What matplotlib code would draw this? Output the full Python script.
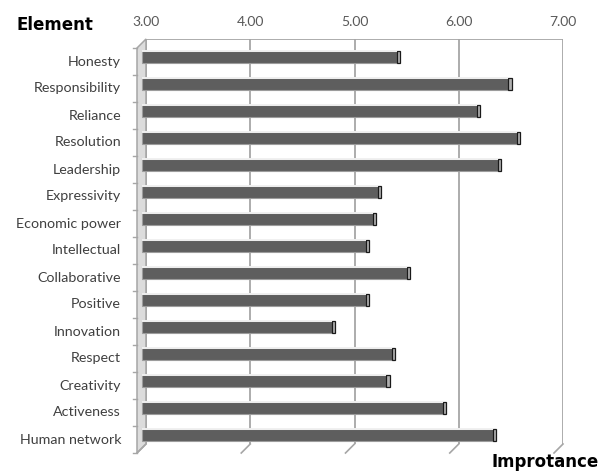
import numpy as np
import matplotlib.pyplot as plt
from matplotlib.patches import Polygon
from matplotlib.transforms import ScaledTranslation

plt.rcParams['font.family'] = ['Lato', 'DejaVu Sans']

elements = ['Honesty', 'Responsibility', 'Reliance', 'Resolution', 'Leadership',
            'Expressivity', 'Economic power', 'Intellectual', 'Collaborative',
            'Positive', 'Innovation', 'Respect', 'Creativity', 'Activeness',
            'Human network']
importance = [5.45, 6.52, 6.22, 6.60, 6.42, 5.27, 5.22, 5.15, 5.55, 5.15,
              4.83, 5.40, 5.35, 5.89, 6.37]
ticks = [3, 4, 5, 6, 7]
tick_labels = ['3.00', '4.00', '5.00', '6.00', '7.00']

DPI = 100
W, H = 613, 472
fig = plt.figure(figsize=(W / DPI, H / DPI), dpi=DPI)
# axes = back wall of the 3-D plot area
ax = fig.add_axes([146 / W, 28 / H, (563 - 146) / W, (444 - 39) / H])
ax.set_xlim(3, 7)
ax.set_ylim(len(elements) - 0.5, -0.5)
for s in ax.spines.values():
    s.set_visible(False)
ax.set_yticks([])
ax.set_xticks(ticks)
ax.set_xticklabels(tick_labels, fontsize=10, color='#595959')
ax.xaxis.tick_top()
ax.tick_params(axis='x', length=0, pad=8)

grid_c = '#a6a6a6'
depth = 9  # px, depth of the 3-D box

def px(x, y):
    return ax.transData.transform((x, y))

y_top, y_bot = -0.5, len(elements) - 0.5

# back wall gridlines, top edge and floor diagonals
for t in ticks:
    ax.plot([t, t], [y_top, y_bot], color=grid_c, lw=1.3, zorder=1)
    x0, y0 = px(t, y_bot)
    ax.add_line(plt.Line2D([x0, x0 - depth], [y0, y0 - depth], color=grid_c,
                           lw=1.2, transform=None, clip_on=False))
ax.plot([3, 7], [y_top, y_top], color=grid_c, lw=1.3, zorder=1)

# left side wall (drawn under the bars)
bx, by_top = px(3, y_top)
_, by_bot = px(3, y_bot)
wall = Polygon([(bx, by_top), (bx, by_bot), (bx - depth, by_bot - depth),
                (bx - depth, by_top - depth)], closed=True, transform=None,
               facecolor='#dcdcdc', edgecolor=grid_c, lw=1.1, zorder=1,
               clip_on=False)
ax.add_patch(wall)
for k in range(len(elements) + 1):
    _, yy = px(3, k - 0.5)
    ax.add_line(plt.Line2D([bx - depth - 4, bx - depth],
                           [yy - depth, yy - depth], color=grid_c,
                           lw=1.0, transform=None, clip_on=False))

# bars sit half way into the depth
shift = ScaledTranslation(-depth / 2 / DPI, -depth / 2 / DPI, fig.dpi_scale_trans)
bar_tr = ax.transData + shift
yy = np.arange(len(elements))
bar_h = 0.44
ax.barh(yy, np.array(importance) - 3, left=3, height=bar_h, color='#5e5e5e',
        edgecolor='#9c9c9c', lw=0.8, transform=bar_tr, zorder=3, clip_on=False)
ax.hlines(yy - bar_h / 2, 3, importance, color='#f0f0f0', lw=1.4,
          transform=bar_tr, zorder=4, clip_on=False)
cap = 0.03
ax.barh(yy, cap, left=importance, height=bar_h, color='#b0b0b0',
        edgecolor='#1a1a1a', lw=0.9, transform=bar_tr, zorder=3, clip_on=False)

# category labels, aligned with the front edge of the box
lab_tr = ax.transData + ScaledTranslation(-25 / DPI, -depth / DPI,
                                          fig.dpi_scale_trans)
for i, name in enumerate(elements):
    ax.text(3, i, name, ha='right', va='center', fontsize=10.3,
            color='#404040', transform=lab_tr)

fig.text(16 / W, 1 - 30 / H, 'Element', fontsize=12, fontweight='bold',
         family='DejaVu Sans', ha='left', va='baseline')
fig.text(599 / W, 1 - 467 / H, 'Improtance', fontsize=12, fontweight='bold',
         family='DejaVu Sans', ha='right', va='baseline')

fig.savefig('out.png', dpi=DPI)
